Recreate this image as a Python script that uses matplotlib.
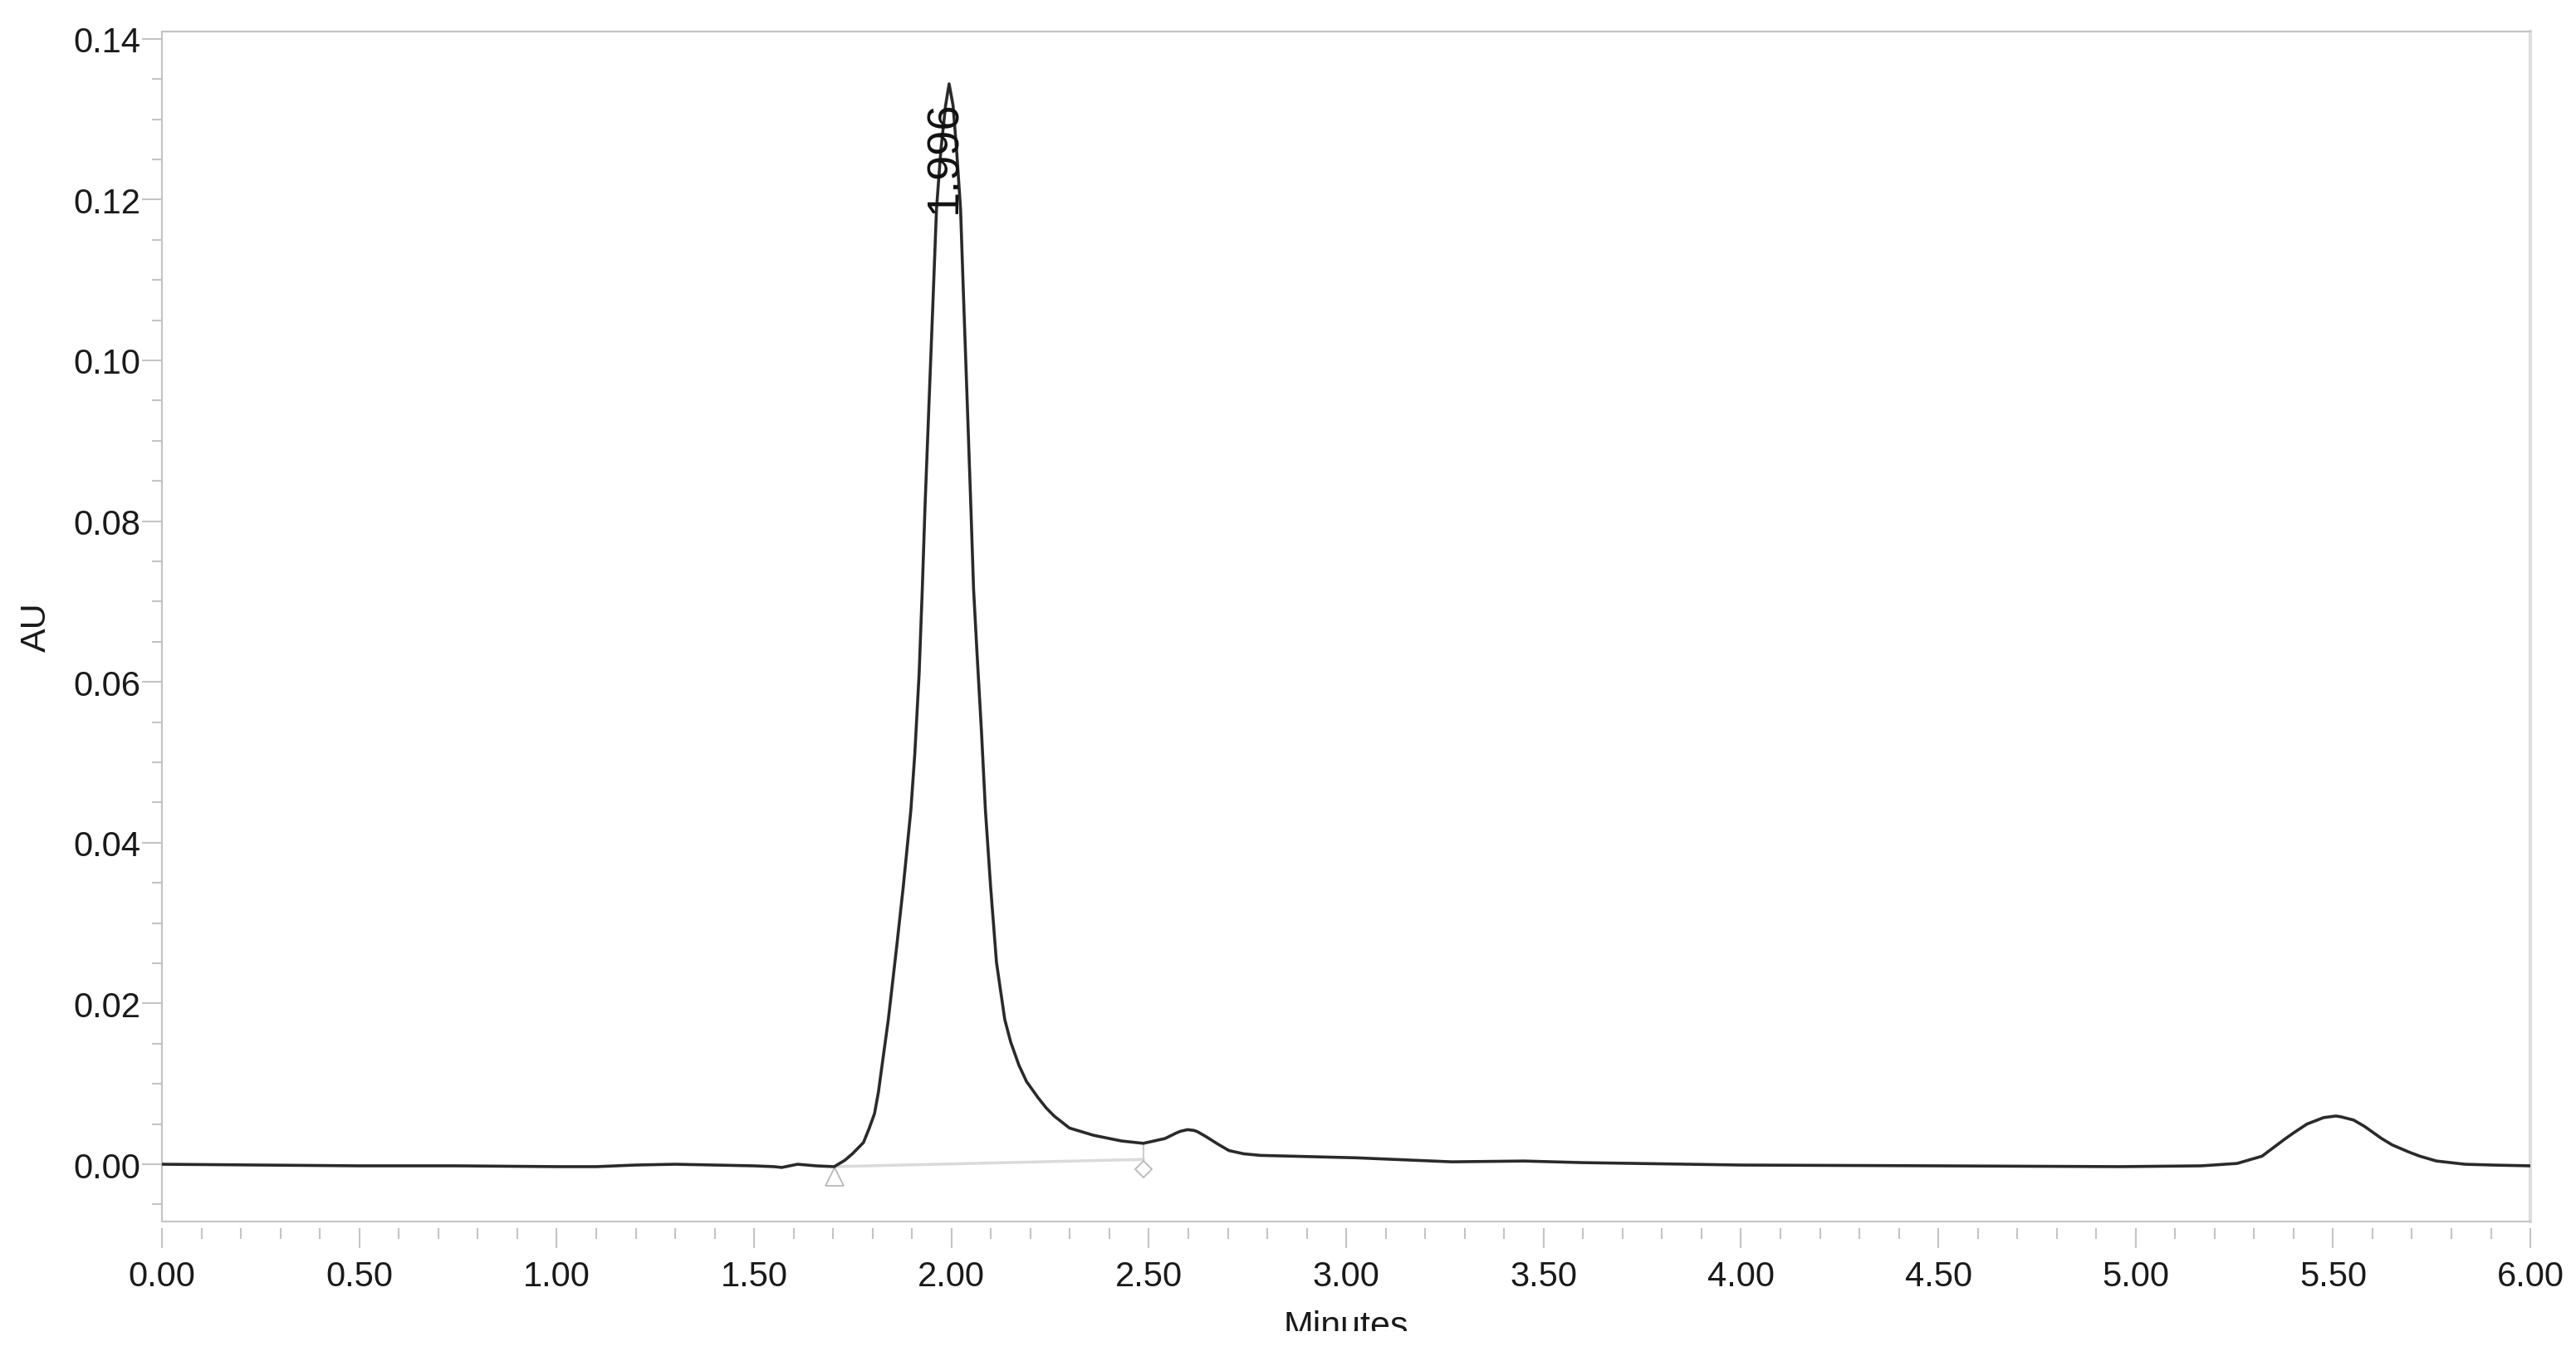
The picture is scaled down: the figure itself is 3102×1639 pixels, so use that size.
import matplotlib
matplotlib.use("Agg")
import matplotlib.pyplot as plt
from matplotlib.ticker import MultipleLocator, FormatStrFormatter
from matplotlib.transforms import offset_copy
from matplotlib.patches import Rectangle

plt.rcParams['font.family'] = ['Liberation Sans', 'DejaVu Sans']

# --- trace (minutes, AU) ---
tiempo = [0.00, 0.25, 0.50, 0.75, 1.00, 1.10, 1.20, 1.30, 1.40, 1.50, 1.55, 1.57,
          1.61, 1.657, 1.703, 1.73, 1.749, 1.777, 1.791, 1.805, 1.815, 1.823,
          1.840, 1.861, 1.878, 1.897, 1.907, 1.918, 1.926, 1.933, 1.943, 1.953,
          1.962, 1.973, 1.985, 1.994, 2.004, 2.013, 2.023, 2.031, 2.040, 2.049,
          2.056, 2.065, 2.076, 2.086, 2.099, 2.114, 2.135, 2.15, 2.171, 2.19,
          2.219, 2.24, 2.260, 2.299, 2.360, 2.430, 2.486, 2.541, 2.570, 2.58,
          2.598, 2.615, 2.625, 2.646, 2.675, 2.703, 2.740, 2.783, 3.025, 3.267,
          3.45, 3.60, 4.00, 4.50, 4.96, 5.166, 5.257, 5.320, 5.377, 5.40, 5.434,
          5.476, 5.507, 5.52, 5.552, 5.58, 5.623, 5.65, 5.693, 5.72, 5.762, 5.834,
          5.903, 6.00]
absorb = [0.0000, -0.0001, -0.0002, -0.0002, -0.0003, -0.0003, -0.0001, 0.0000,
          -0.0001, -0.0002, -0.0003, -0.0004, 0.0000, -0.0002, -0.0003, 0.0005,
          0.0013, 0.0027, 0.0044, 0.0063, 0.0090, 0.0119, 0.0180, 0.0270, 0.0346,
          0.0440, 0.0510, 0.0610, 0.0715, 0.0819, 0.0946, 0.1072, 0.1188, 0.1261,
          0.1317, 0.1344, 0.1317, 0.1261, 0.1188, 0.1072, 0.0946, 0.0819, 0.0715,
          0.0633, 0.0538, 0.0440, 0.0346, 0.0251, 0.0180, 0.0152, 0.0123, 0.0103,
          0.0083, 0.0070, 0.0060, 0.0045, 0.0036, 0.0029, 0.0026, 0.0032, 0.0039,
          0.0041, 0.0043, 0.0042, 0.0040, 0.0034, 0.0025, 0.0017, 0.0013, 0.0011,
          0.0008, 0.0003, 0.0004, 0.0002, -0.0001, -0.0002, -0.0003, -0.0002,
          0.0001, 0.0010, 0.0031, 0.0039, 0.0050, 0.0058, 0.0060, 0.0059, 0.0055,
          0.0047, 0.0032, 0.0024, 0.0015, 0.0010, 0.0004, 0.0000, -0.0001, -0.0002]

# peak integration
pico_tr = 1.996
pico_label_x = 1.982
pico_label_y = 0.1184
inicio = (1.703, -0.0003)
fin = (2.486, 0.0006)
fin_curva = 0.0026

fig = plt.figure(figsize=(31.02, 16.40), dpi=100)
ax = fig.add_axes([0.0629, 0.1024, 0.9194, 0.8738])

ax.plot(tiempo, absorb, color="#2a2a2a", lw=2.6, zorder=3,
        solid_joinstyle="round")

# baseline + drop line + start/end markers
ax.plot([inicio[0], fin[0]], [inicio[1], fin[1]], color="#dadada", lw=2.5, zorder=2)
ax.plot([fin[0], fin[0]], [fin[1], fin_curva], color="#c8c8c8", lw=1.3, zorder=2)
marca = offset_copy(ax.transData, fig=fig, y=-8.5, units='points')
ax.plot([inicio[0]], [inicio[1]], marker="^", ms=15.5, mfc="none", mec="#b8b8b8",
        mew=1.3, transform=marca, clip_on=False)
ax.plot([fin[0]], [fin[1]], marker="D", ms=10, mfc="none", mec="#b8b8b8",
        mew=1.3, transform=marca, clip_on=False)

ax.text(pico_label_x, pico_label_y, f"{pico_tr:.3f}", rotation=90, ha="center",
        va="bottom", fontsize=39, color="#111111", zorder=4)

# --- ejes ---
ax.set_xlim(0, 6)
ax.set_ylim(-0.00713, 0.1409)
ax.xaxis.set_major_locator(MultipleLocator(0.5))
ax.xaxis.set_minor_locator(MultipleLocator(0.1))
ax.yaxis.set_major_locator(MultipleLocator(0.02))
ax.yaxis.set_minor_locator(MultipleLocator(0.005))
ax.xaxis.set_major_formatter(FormatStrFormatter("%.2f"))
ax.yaxis.set_major_formatter(FormatStrFormatter("%.2f"))

ax.tick_params(which="both", direction="out", color="#c4c4c4", width=1.5,
               labelsize=30, labelcolor="#1a1a1a")
ax.tick_params(axis="y", which="major", length=17, pad=1.5)
ax.tick_params(axis="y", which="minor", length=9)
ax.tick_params(axis="x", which="major", length=17, pad=10)
ax.tick_params(axis="x", which="minor", length=9.5)

for lado in ["left", "top"]:
    ax.spines[lado].set_color("#c4c4c4")
    ax.spines[lado].set_linewidth(1.6)
ax.spines["right"].set_color("#dedede")
ax.spines["right"].set_linewidth(3)
ax.spines["bottom"].set_position(("outward", 5.8))
ax.spines["bottom"].set_visible(False)
ax.plot([0, 1], [0, 0], transform=ax.transAxes, color="#c8c8c8", lw=1.6,
        clip_on=False, zorder=5)

ax.set_ylabel("AU", fontsize=31, color="#1a1a1a")
ax.yaxis.set_label_coords(-0.0459, 0.5)
ax.set_xlabel("Minutes", fontsize=31, color="#1a1a1a")
ax.xaxis.set_label_coords(0.5, -0.074)

# bottom of the original image cuts the axis title
fig.add_artist(Rectangle((0, 0), 1, 36 / 1640, transform=fig.transFigure,
                         facecolor="white", edgecolor="none", zorder=10))

fig.savefig("out.png", dpi=100, facecolor="white")
